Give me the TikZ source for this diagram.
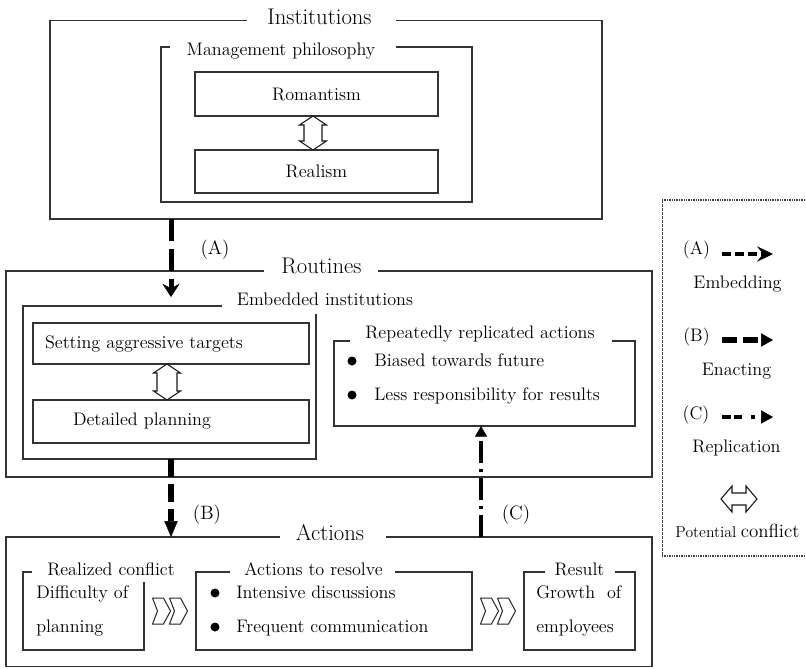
\documentclass[tikz,border=0pt]{standalone}
\usepackage{fontspec}
\usetikzlibrary{arrows.meta,calc}
\begin{document}
\begin{tikzpicture}[x=0.75pt,y=-0.75pt,
  frame/.style={draw=black!80,line width=0.85pt},
  box/.style={draw=black!80,line width=0.85pt,inner sep=0pt},
  txt/.style={font=\fontsize{13.6}{16}\selectfont,inner sep=0pt},
  ttl/.style={txt,anchor=base},
  bigttl/.style={font=\fontsize{17}{20}\selectfont,inner sep=0pt,anchor=base},
  lbl/.style={font=\fontsize{14.5}{17}\selectfont,inner sep=0pt},
  lgd/.style={font=\fontsize{13.6}{16}\selectfont,inner sep=0pt},
  dot/.style={circle,fill=black,inner sep=0pt,minimum size=6.75pt},
  embed/.style={line width=3.75pt,dash pattern=on 16.5pt off 6pt,
    -{Stealth[length=10pt,width=13pt,inset=3.5pt,line width=0.4pt]}},
  enact/.style={line width=3.9pt,dash pattern=on 13.5pt off 5.25pt,
    -{Triangle[length=12pt,width=10pt,line width=0.4pt]}},
  repl/.style={line width=2.8pt,dash pattern=on 16.5pt off 4.5pt on 2.25pt off 4.5pt,
    -{Triangle[length=8pt,width=9pt,line width=0.4pt]}},
  embedkey/.style={line width=3.6pt,dash pattern=on 6.75pt off 3pt,
    -{Stealth[length=12pt,width=11.5pt,inset=4.5pt,line width=0.4pt]}},
  enactkey/.style={line width=3.9pt,dash pattern=on 11.25pt off 4.5pt,
    -{Triangle[length=9pt,width=10pt,line width=0.4pt]}},
  replkey/.style={line width=3.2pt,dash pattern=on 6.75pt off 2.25pt on 6pt off 6.75pt on 3pt off 10pt,
    -{Triangle[length=9pt,width=10pt,line width=0.4pt]}},
  clash/.style={draw=black!90,line width=0.8pt,fill=white,line join=miter},
  chev/.style={draw=black!85,line width=0.75pt,fill=white},
  pics/dbl/.style n args={4}{code={
    \draw[clash] (-#1/2,0) -- (-#1/2+#4,#3/2) -- (-#1/2+#4,#2/2) -- (#1/2-#4,#2/2)
      -- (#1/2-#4,#3/2) -- (#1/2,0) -- (#1/2-#4,-#3/2) -- (#1/2-#4,-#2/2)
      -- (-#1/2+#4,-#2/2) -- (-#1/2+#4,-#3/2) -- cycle;}},
  pics/chevron/.style={code={
    \draw[chev] (-9,-13) -- (2,-13) -- (9,0) -- (2,13) -- (-9,13) -- (-4,0) -- cycle;}},
]
\useasboundingbox (0,0) rectangle (806,668);

% ---------- Institutions ----------
\node[bigttl] (inst) at (319.5,24) {Institutions};
\draw[frame] (247,20.7) -- (50,20.7) -- (50,219) -- (602,219) -- (602,20.7) -- (396,20.7);
\coordinate (instB) at (171,219);

\node[ttl] (mgmt) at (281,55) {Management philosophy};
\draw[frame] (170,47) -- (161,47) -- (161,202) -- (472,202) -- (472,47) -- (396,47);
\node[box,txt,minimum width=182.25pt,minimum height=33pt] (rom) at (316.5,94) {Romantism};
\node[box,txt,minimum width=182.25pt,minimum height=32.25pt] (real) at (316.5,171.5) {Realism};
\pic[rotate=90] at ($(rom.south)!.5!(real.north)+(-3.5,0)$) {dbl={34}{18}{27}{9}};

% ---------- Routines ----------
\node[bigttl] (rout) at (321.5,273) {Routines};
\draw[frame] (264,271) -- (6,271) -- (6,477) -- (652,477) -- (652,271) -- (378,271);

\node[ttl] (emb) at (325,305) {Embedded institutions};
\draw[frame] (222,306) -- (23,306) -- (23,459) -- (316,459) -- (316,314);
\coordinate (embT) at (171,306);
\coordinate (embB) at (171,459);
\node[box,txt,minimum height=30.75pt,text width=189pt,inner xsep=9pt,align=left]
  (set) at (171,343.5) {Setting aggressive targets};
\node[box,txt,minimum height=32.25pt,text width=147pt,inner xsep=30pt,align=left]
  (plan) at (171,421.5) {Detailed planning};
\pic[rotate=90] at ($(set.south)!.5!(plan.north)+(-4,0)$) {dbl={36}{20}{27}{9}};

\node[ttl] (rep) at (480,338) {Repeatedly replicated actions};
\draw[frame] (350,341) -- (334,341) -- (334,426) -- (635,426) -- (635,341) -- (612,341);
\coordinate (repB) at (481,426);
\node[dot] (rb1) at (352,361) {};
\node[txt,anchor=base west] (rt1) at (374,366) {Biased towards future};
\node[dot] (rb2) at (352,395) {};
\node[txt,anchor=base west] (rt2) at (374,400) {Less responsibility for results};

% ---------- Actions ----------
\node[bigttl] (act) at (330,540) {Actions};
\draw[frame] (280,537) -- (6,537) -- (6,666.5) -- (652,666.5) -- (652,537) -- (386,537);
\coordinate (actA) at (171,537);
\coordinate (actC) at (481,537);

\node[ttl] (rc) at (111,575) {Realized conflict};
\draw[frame] (32,572) -- (23,572) -- (23,650) -- (144,650) -- (144,582);
\node[txt,anchor=base west] (rc1) at (36,598) {Difficulty of};
\node[txt,anchor=base west] (rc2) at (36,632) {planning};

\pic at (161.5,611) {chevron};
\pic at (178.5,611) {chevron};

\node[ttl] (atr) at (313.5,575) {Actions to resolve};
\draw[frame] (230,572) -- (196,572) -- (196,650) -- (472,650) -- (472,572) -- (395,572);
\node[dot] (ab1) at (215,593) {};
\node[txt,anchor=base west] (at1) at (236,598) {Intensive discussions};
\node[dot] (ab2) at (215,627) {};
\node[txt,anchor=base west] (at2) at (236,632) {Frequent communication};

\pic at (489.5,611) {chevron};
\pic at (506.5,611) {chevron};

\node[ttl] (res) at (579.5,575) {Result};
\draw[frame] (545,572) -- (524,572) -- (524,650) -- (635,650) -- (635,572) -- (615,572);
\node[txt,anchor=base west] (rs1) at (536,598) {Growth\hspace{9pt}of};
\node[txt,anchor=base west] (rs2) at (536,632) {employees};

% ---------- Links between levels ----------
\draw[embed,shorten >=6.75pt] (instB) -- (embT);
\node[lbl] (labA) at (215,250) {(A)};
\draw[enact] (embB) -- (actA);
\node[lbl] (labB) at (207,515) {(B)};
\draw[repl] (actC) -- (repB);
\node[lbl] (labC) at (516,515) {(C)};

% ---------- Key ----------
\draw[black!75,line width=0.6pt,dash pattern=on 2pt off 1pt] (662,200) -- (662,556);
\draw[black!75,line width=1.3pt,dash pattern=on 1pt off 0.8pt] (662,200) -- (806,200);
\draw[black!75,line width=1.3pt,dash pattern=on 1pt off 0.8pt] (662,556) -- (806,556);

\node[lgd] (kA) at (696.5,250) {(A)};
\coordinate (kA1) at (722,254);
\coordinate (kA2) at (773,254);
\draw[embedkey] (kA1) -- (kA2);
\node[lgd,anchor=base] (kAt) at (737.5,288) {Embedding};

\node[lgd] (kB) at (696.5,337) {(B)};
\coordinate (kB1) at (722,340);
\coordinate (kB2) at (773,340);
\draw[enactkey] (kB1) -- (kB2);
\node[lgd,anchor=base] (kBt) at (736.5,375) {Enacting};

\node[lgd] (kC) at (696,415) {(C)};
\coordinate (kC1) at (722,417);
\coordinate (kC2) at (773,417);
\draw[replkey] (kC1) -- (kC2);
\node[lgd,anchor=base] (kCt) at (736.5,452) {Replication};

\pic at (739,499) {dbl={36}{12}{26}{11}};
\node[inner sep=0pt,anchor=base] (kD) at (737.5,537)
  {{\fontsize{11.8}{14}\selectfont Potential} {\fontsize{14.2}{16}\selectfont conflict}};
\end{tikzpicture}
\end{document}
